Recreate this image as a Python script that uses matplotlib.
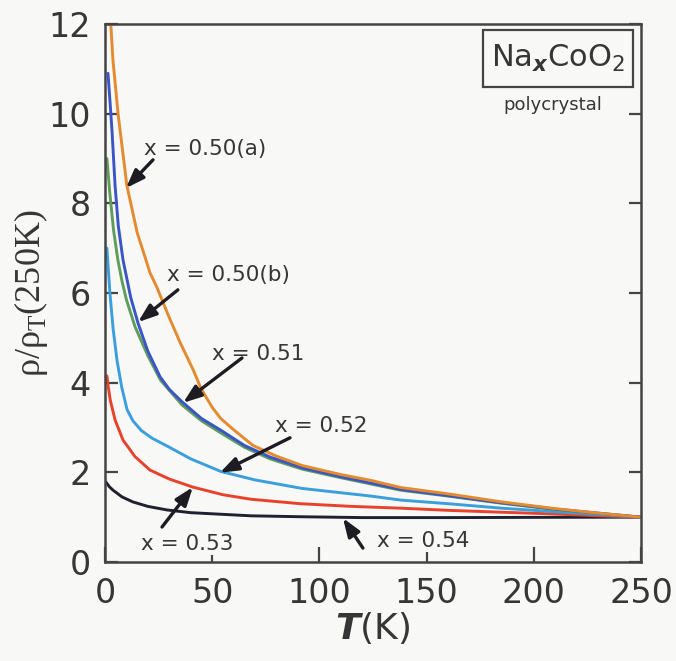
import matplotlib
matplotlib.use("Agg")
import matplotlib.pyplot as plt
from matplotlib.patches import Rectangle

BG = "#f8f8f7"
INK = "#363636"

plt.rcParams["font.family"] = ["DejaVu Sans"]
plt.rcParams["mathtext.fontset"] = "custom"
plt.rcParams["mathtext.rm"] = "Liberation Serif"
plt.rcParams["mathtext.sf"] = "DejaVu Sans"
plt.rcParams["mathtext.bf"] = "DejaVu Sans:italic:bold"

# rho(T)/rho(250K) curves for each Na content
t_050a = [2.7, 3.7, 6.1, 10.2, 15, 21, 24, 30, 35, 41, 45, 50, 54, 60, 69, 80, 92, 110, 124, 138, 160, 185, 210, 230, 250]
r_050a = [12.0, 11.2, 10.0, 8.4, 7.35, 6.45, 6.15, 5.45, 4.9, 4.3, 3.85, 3.45, 3.2, 2.95, 2.6, 2.36, 2.15, 1.95, 1.82, 1.66, 1.52, 1.34, 1.19, 1.09, 1.0]

t_050b = [1.4, 2.3, 3.3, 4.7, 6.2, 8.4, 12, 15.4, 20, 25.7, 30, 36, 45, 54, 65, 77, 92, 110, 124, 138, 160, 185, 210, 230, 250]
r_050b = [10.9, 10.3, 9.6, 8.4, 7.5, 6.74, 5.9, 5.33, 4.7, 4.13, 3.85, 3.57, 3.2, 2.94, 2.6, 2.34, 2.1, 1.9, 1.76, 1.62, 1.48, 1.32, 1.18, 1.09, 1.0]

t_051 = [0.9, 2.3, 4, 6, 8, 10, 14, 20, 26, 36, 45, 54, 65, 77, 92, 110, 124, 138, 160, 185, 210, 230, 250]
r_051 = [9.0, 8.2, 7.4, 6.74, 6.25, 5.85, 5.25, 4.6, 4.05, 3.5, 3.15, 2.88, 2.56, 2.3, 2.07, 1.88, 1.74, 1.6, 1.47, 1.31, 1.17, 1.08, 1.0]

t_052 = [0.9, 2.3, 3.8, 5.6, 7.8, 10.3, 13, 17, 22, 30, 40, 54, 70, 92, 124, 138, 160, 185, 210, 230, 250]
r_052 = [7.0, 6.0, 5.2, 4.5, 3.9, 3.4, 3.15, 2.93, 2.76, 2.56, 2.3, 2.02, 1.83, 1.64, 1.47, 1.38, 1.3, 1.2, 1.12, 1.06, 1.0]

t_053 = [0.9, 1.6, 2.5, 4.7, 8.4, 14, 21, 30, 41, 55, 68, 91, 115, 138, 161, 185, 210, 230, 250]
r_053 = [4.15, 3.88, 3.6, 3.17, 2.72, 2.35, 2.05, 1.85, 1.67, 1.5, 1.4, 1.3, 1.24, 1.2, 1.15, 1.11, 1.07, 1.03, 1.0]

t_054 = [0.5, 2, 3.8, 8, 13, 20, 29, 40, 52, 68, 90, 120, 160, 200, 250]
r_054 = [1.78, 1.68, 1.6, 1.45, 1.34, 1.24, 1.16, 1.1, 1.07, 1.03, 1.01, 0.99, 0.99, 0.995, 1.0]

labels = ["x = 0.50(a)", "x = 0.50(b)", "x = 0.51", "x = 0.52", "x = 0.53", "x = 0.54"]
label_xy = [(46.6, 9.21), (57.4, 6.40), (71.4, 4.64), (100.7, 3.03), (38.2, 0.40), (148.3, 0.47)]
arrow_tail = [(22.4, 8.97), (34.0, 6.07), (63.9, 4.55), (86.3, 2.77), (26.6, 0.78), (120.3, 0.31)]
arrow_tip = [(9.8, 8.34), (15.4, 5.35), (36.4, 3.55), (53.6, 1.99), (41.0, 1.67), (111.0, 0.98)]

curves = [
    (t_050a, r_050a, "#e48a2f"),
    (t_050b, r_050b, "#3a55c6"),
    (t_051, r_051, "#5f9d5b"),
    (t_052, r_052, "#3a9fdc"),
    (t_053, r_053, "#e8422c"),
    (t_054, r_054, "#1f2030"),
]

fig = plt.figure(figsize=(6.76, 6.61), dpi=100, facecolor=BG)
ax = fig.add_axes([0.1553, 0.1498, 0.7929, 0.8139], facecolor=BG)

# draw bottom curves first so the upper ones sit on top where they merge
for t, r, c in reversed(curves):
    ax.plot(t, r, color=c, lw=2.1, solid_capstyle="round", solid_joinstyle="round", zorder=2)

for txt, (tx, ty) in zip(labels, label_xy):
    ax.text(tx, ty, txt, fontsize=15.5, color=INK, ha="center", va="center", zorder=3,
            bbox=dict(boxstyle="square,pad=0.05", fc=BG, ec="none"))

for (x0, y0), (x1, y1) in zip(arrow_tail, arrow_tip):
    ax.annotate("", xy=(x1, y1), xytext=(x0, y0), zorder=4,
                arrowprops=dict(arrowstyle="-|>,head_length=0.55,head_width=0.2",
                                color="#1c1c22", lw=2.4, mutation_scale=20,
                                shrinkA=0, shrinkB=0))

# compound box in the upper right corner
ax.add_patch(Rectangle((0.705, 0.883), 0.28, 0.106, transform=ax.transAxes,
                       fill=False, ec="#444444", lw=1.6, zorder=5))
ax.text(0.845, 0.936, r"Na$_{\mathbf{x}}$CoO$_{\mathsf{2}}$", transform=ax.transAxes,
        fontsize=22, color=INK, ha="center", va="center", zorder=5)
ax.text(0.836, 0.849, "polycrystal", transform=ax.transAxes,
        fontsize=13, color=INK, ha="center", va="center", zorder=5)

ax.set_xlim(0, 250)
ax.set_ylim(0, 12)
ax.set_xticks([0, 50, 100, 150, 200, 250])
ax.set_yticks([0, 2, 4, 6, 8, 10, 12])

for s in ax.spines.values():
    s.set_color("#444444")
    s.set_linewidth(1.8)

ax.tick_params(axis="x", direction="in", length=11, width=1.6, color="#444444",
               labelsize=24, labelcolor=INK, pad=11)
ax.tick_params(axis="y", direction="in", length=9, width=1.6, color="#444444",
               labelsize=24, labelcolor=INK, pad=10, right=True)

ax.set_xlabel(r"$\mathbf{T}$(K)", fontsize=26, color=INK)
ax.xaxis.set_label_coords(0.5, -0.09)
ax.set_ylabel(r"ρ/ρ$_{\mathrm{T}}$(250K)", fontsize=26, color=INK, family="Liberation Serif")
ax.yaxis.set_label_coords(-0.103, 0.5)

fig.savefig("out.png", dpi=100, facecolor=BG)
